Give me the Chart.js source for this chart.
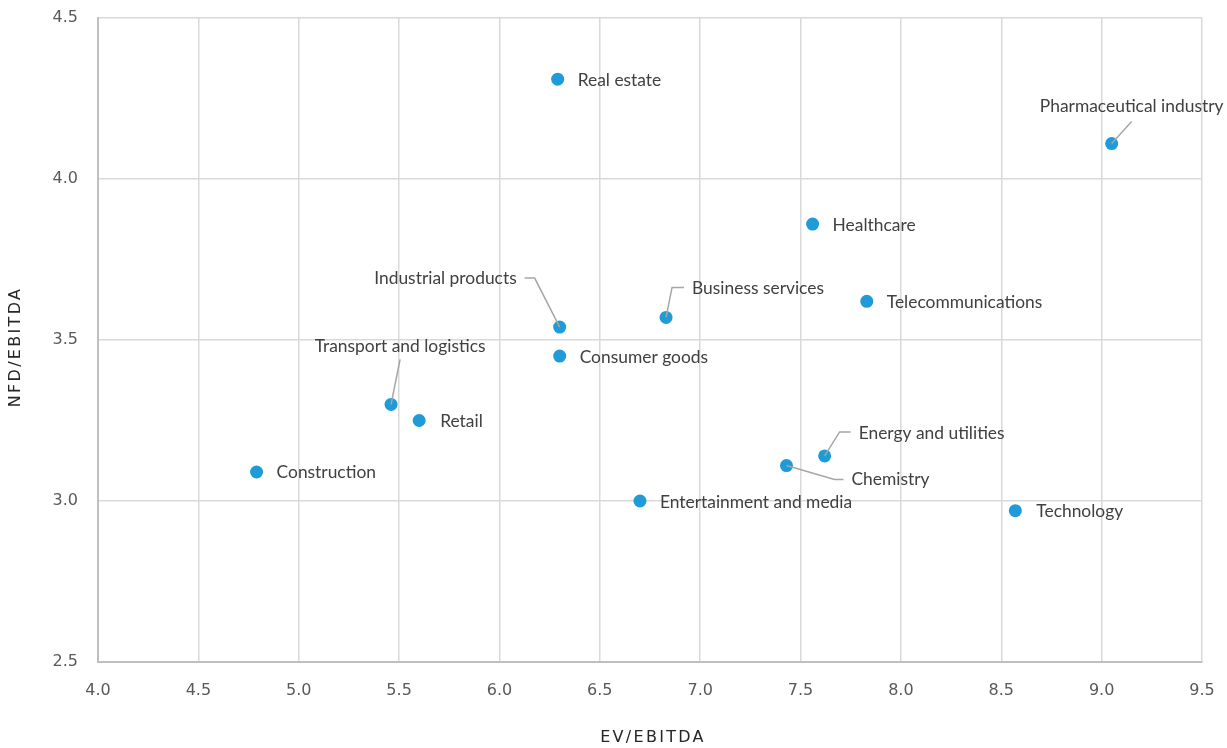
<!DOCTYPE html>
<html>
<head>
<meta charset="utf-8">
<script src="https://cdn.jsdelivr.net/npm/chart.js@4.4.1/dist/chart.umd.min.js"></script>
<style>
  html, body { margin: 0; padding: 0; background: #ffffff; }
  #wrap { width: 1227px; height: 748px; position: relative; }
</style>
</head>
<body>
<div id="wrap"><canvas id="chart"></canvas></div>
<script>
// Sector multiples
const sectors = [
  'Real estate', 'Pharmaceutical industry', 'Healthcare', 'Telecommunications',
  'Business services', 'Industrial products', 'Consumer goods', 'Transport and logistics',
  'Retail', 'Construction', 'Energy and utilities', 'Chemistry',
  'Entertainment and media', 'Technology'
];
const evEbitda  = [6.29, 9.05, 7.56, 7.83, 6.83, 6.30, 6.30, 5.46, 5.60, 4.79, 7.62, 7.43, 6.70, 8.57];
const nfdEbitda = [4.31, 4.11, 3.86, 3.62, 3.57, 3.54, 3.45, 3.30, 3.25, 3.09, 3.14, 3.11, 3.00, 2.97];

const xTicks = [4.0, 4.5, 5.0, 5.5, 6.0, 6.5, 7.0, 7.5, 8.0, 8.5, 9.0, 9.5];
const yTicks = [2.5, 3.0, 3.5, 4.0, 4.5];

const xTitle = 'EV/EBITDA';
const yTitle = 'NFD/EBITDA';

// Label placement relative to each point (pixels): text offset, alignment, optional leader path
const labelLayout = [
  { dx: 20, dy: 1, align: 'left' },
  { dx: 20, dy: -37, align: 'center', leader: [[0, 0], [20, -22]] },
  { dx: 20, dy: 1, align: 'left' },
  { dx: 20, dy: 1, align: 'left' },
  { dx: 26, dy: -29, align: 'left', leader: [[0, 0], [6, -30], [18, -30]] },
  { dx: -43, dy: -49, align: 'right', leader: [[0, 0], [-25, -49], [-35, -49]] },
  { dx: 20, dy: 1, align: 'left' },
  { dx: 9, dy: -58, align: 'center', leader: [[0, 0], [9, -45]] },
  { dx: 21, dy: 1, align: 'left' },
  { dx: 20, dy: 0, align: 'left' },
  { dx: 34, dy: -23, align: 'left', leader: [[0, 0], [15, -24], [26, -24]] },
  { dx: 65, dy: 14, align: 'left', leader: [[0, 0], [48, 14], [57, 14]] },
  { dx: 20, dy: 1, align: 'left' },
  { dx: 21, dy: 1, align: 'left' }
];

const pointLabels = {
  id: 'pointLabels',
  afterDatasetsDraw(chart) {
    const ctx = chart.ctx;
    const meta = chart.getDatasetMeta(0);
    ctx.save();
    meta.data.forEach((pt, i) => {
      const lay = labelLayout[i];
      const px = pt.x, py = pt.y;
      if (lay.leader) {
        ctx.beginPath();
        ctx.strokeStyle = '#a6a6a6';
        ctx.lineWidth = 1.5;
        lay.leader.forEach((p, k) => {
          if (k === 0) ctx.moveTo(px + p[0], py + p[1]);
          else ctx.lineTo(px + p[0], py + p[1]);
        });
        ctx.stroke();
      }
      ctx.font = '17.4px Lato, "Open Sans", sans-serif';
      ctx.fillStyle = '#404040';
      ctx.textAlign = lay.align;
      ctx.textBaseline = 'middle';
      ctx.fillText(sectors[i], px + lay.dx, py + lay.dy);
    });
    ctx.restore();
  }
};

// Spaced-out axis titles
const axisTitles = {
  id: 'axisTitles',
  afterDraw(chart) {
    const ctx = chart.ctx;
    const area = chart.chartArea;
    ctx.save();
    ctx.font = '16px "DejaVu Sans", sans-serif';
    ctx.fillStyle = '#262626';
    ctx.letterSpacing = '2.3px';
    ctx.textAlign = 'center';
    ctx.textBaseline = 'middle';
    ctx.fillText(xTitle, (area.left + area.right) / 2 + 3, 738);
    ctx.translate(16, (area.top + area.bottom) / 2 + 7);
    ctx.rotate(-Math.PI / 2);
    ctx.fillText(yTitle, 0, 0);
    ctx.restore();
  }
};

const points = evEbitda.map((x, i) => ({ x: x, y: nfdEbitda[i] }));

new Chart(document.getElementById('chart'), {
  type: 'scatter',
  data: {
    datasets: [{
      data: points,
      backgroundColor: '#1f9bd7',
      borderWidth: 0,
      pointRadius: 6.5,
      pointHoverRadius: 6.5
    }]
  },
  options: {
    responsive: true,
    maintainAspectRatio: false,
    animation: false,
    layout: { padding: { top: 18, right: 25, left: 0, bottom: 0 } },
    plugins: { legend: { display: false }, tooltip: { enabled: false } },
    scales: {
      x: {
        type: 'linear',
        min: xTicks[0],
        max: xTicks[xTicks.length - 1],
        afterBuildTicks(scale) { scale.ticks = xTicks.map(v => ({ value: v })); },
        afterFit(scale) {
          scale.height = 86;
          scale.paddingLeft = 0;
          scale.paddingRight = 0;
        },
        ticks: {
          callback: v => v.toFixed(1),
          color: '#595959',
          font: { family: '"DejaVu Sans", Verdana, sans-serif', size: 16 },
          padding: 19,
          maxRotation: 0
        },
        grid: { color: '#d9d9d9', lineWidth: 1.5, drawTicks: false },
        border: { color: '#bfbfbf', width: 2 },
        title: { display: false }
      },
      y: {
        type: 'linear',
        min: yTicks[0],
        max: yTicks[yTicks.length - 1],
        afterBuildTicks(scale) { scale.ticks = yTicks.map(v => ({ value: v })); },
        afterFit(scale) {
          scale.width = 98;
          scale.paddingTop = 0;
          scale.paddingBottom = 0;
        },
        ticks: {
          callback: v => v.toFixed(1),
          color: '#595959',
          font: { family: '"DejaVu Sans", Verdana, sans-serif', size: 16 },
          padding: 20
        },
        grid: { color: '#d9d9d9', lineWidth: 1.5, drawTicks: false },
        border: { color: '#bfbfbf', width: 2 },
        title: { display: false }
      }
    }
  },
  plugins: [pointLabels, axisTitles]
});
</script>
</body>
</html>
